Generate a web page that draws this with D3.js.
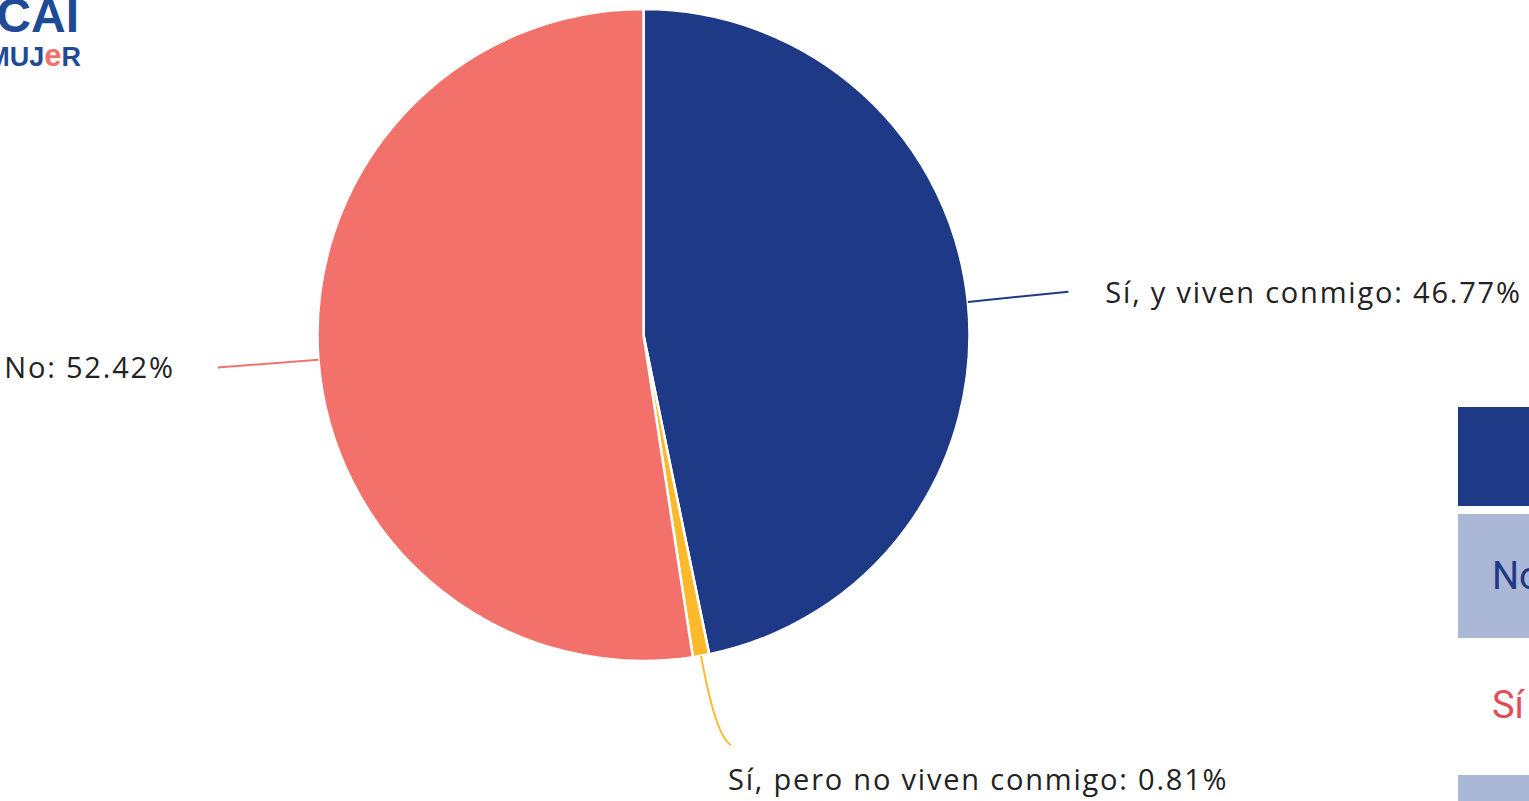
<!DOCTYPE html>
<html><head><meta charset="utf-8">
<script src="https://cdn.jsdelivr.net/npm/d3@7"></script>
<style>
html,body{margin:0;padding:0;background:#fff;overflow:hidden}
svg{display:block}
</style></head>
<body>
<svg id="c" width="1529" height="801"></svg>
<script>
const categories = ["Sí, y viven conmigo", "Sí, pero no viven conmigo", "No"];
const values = [46.77, 0.81, 52.42];
const valueLabels = ["46.77%", "0.81%", "52.42%"];
const palette = ["#1e3a86", "#fbb92b", "#f2726b"];

const W = 1529, H = 801;
const svg = d3.select("#c");
const cx = 643.5, cy = 335, R = 326;

const color = d3.scaleOrdinal().domain(categories).range(palette);
const pie = d3.pie().sort(null).value(d => d.v);
const data = categories.map((c, i) => ({c, v: values[i], lab: valueLabels[i]}));
const arcs = pie(data);
const arc = d3.arc().innerRadius(0).outerRadius(R);
const edgeArc = d3.arc().innerRadius(R).outerRadius(R);
const outArc = d3.arc().innerRadius(R * 1.31).outerRadius(R * 1.31);

// logo (cropped at left edge)
const logo = svg.append("g").attr("font-family", "Liberation Sans, Arial, sans-serif").attr("font-weight", "bold");
logo.append("text").attr("x", 79).attr("y", 32).attr("text-anchor", "end")
  .attr("font-size", 48).attr("fill", "#1e4a96").text("CAI");
const mt = logo.append("text").attr("x", 81).attr("y", 66).attr("text-anchor", "end")
  .attr("font-size", 27).attr("fill", "#1e4a96");
mt.append("tspan").text("MUJ");
mt.append("tspan").attr("fill", "#f2726b").attr("font-size", 31).text("e");
mt.append("tspan").text("R");

// right side cropped table
const tbl = svg.append("g");
tbl.append("rect").attr("x", 1458).attr("y", 407).attr("width", 100).attr("height", 99).attr("fill", "#1e3a86");
tbl.append("rect").attr("x", 1458).attr("y", 514).attr("width", 100).attr("height", 124).attr("fill", "#abb7d7");
tbl.append("rect").attr("x", 1458).attr("y", 775).attr("width", 100).attr("height", 60).attr("fill", "#abb7d7");
tbl.append("text").attr("x", 1492).attr("y", 589).attr("font-family", "Roboto, sans-serif")
  .attr("font-size", 38).attr("fill", "#1e3a86").text("No");
tbl.append("text").attr("x", 1492).attr("y", 718).attr("font-family", "Roboto, sans-serif")
  .attr("font-size", 38).attr("fill", "#e04f59").text("Sí");

const g = svg.append("g").attr("transform", `translate(${cx},${cy})`);
g.selectAll("path.slice").data(arcs).enter().append("path")
  .attr("class", "slice")
  .attr("d", arc)
  .attr("fill", d => color(d.data.c))
  .attr("stroke", "#fff").attr("stroke-width", 2.5).attr("stroke-linejoin", "round");

// leader lines and labels
const font = "Open Sans, sans-serif";
const fs = 29, ls = 1.8;
arcs.forEach(d => {
  const p0 = edgeArc.centroid(d);
  const p1 = outArc.centroid(d);
  const mid = (d.startAngle + d.endAngle) / 2;
  const txt = `${d.data.c}: ${d.data.lab}`;
  if (Math.abs(Math.sin(mid)) > 0.5) {
    g.append("line").attr("x1", p0[0]).attr("y1", p0[1]).attr("x2", p1[0]).attr("y2", p1[1])
      .attr("stroke", color(d.data.c)).attr("stroke-width", 2);
    const right = Math.sin(mid) > 0;
    g.append("text")
      .attr("x", p1[0] + (right ? 37 : -43))
      .attr("y", p1[1] + 11)
      .attr("text-anchor", right ? "start" : "end")
      .attr("font-family", font).attr("font-size", fs).attr("fill", "#222")
      .attr("letter-spacing", ls)
      .text(txt);
  } else {
    const pc = d3.arc().innerRadius(R * 1.25).outerRadius(R * 1.25).centroid(d);
    const pe = [p0[0] + 30, pc[1] + 9];
    g.append("path")
      .attr("d", `M${p0[0]},${p0[1]} Q${pc[0]},${pc[1]} ${pe[0]},${pe[1]}`)
      .attr("fill", "none").attr("stroke", color(d.data.c)).attr("stroke-width", 2);
    g.append("text")
      .attr("x", pe[0] - 3)
      .attr("y", pe[1] + 45)
      .attr("font-family", font).attr("font-size", fs).attr("fill", "#222")
      .attr("letter-spacing", ls)
      .text(txt);
  }
});
</script>
</body></html>
